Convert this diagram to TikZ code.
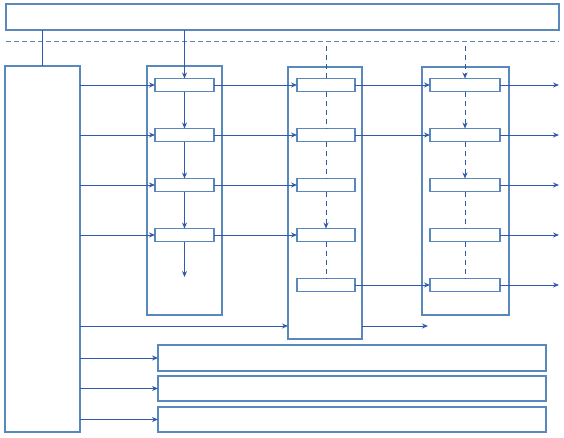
\documentclass[tikz,border=0pt]{standalone}
\usetikzlibrary{arrows.meta}
\definecolor{boxc}{RGB}{88,136,188}
\definecolor{arrc}{RGB}{48,90,168}
\tikzset{
  bigbox/.style={draw=boxc, line width=1.1pt, inner sep=0pt, outer sep=0pt, rectangle},
  sbox/.style={draw=boxc, line width=1.1pt, inner sep=0pt, outer sep=0pt, rectangle, minimum height=13pt},
  arr/.style={draw=arrc, line width=1pt, -{Stealth[length=6pt,width=5pt]}},
  ln/.style={draw=arrc, line width=1pt},
  darr/.style={draw=arrc, line width=0.9pt, dash pattern=on 5pt off 4pt, -{Stealth[length=6pt,width=5pt]}},
  dln/.style={draw=arrc, line width=0.9pt, dash pattern=on 5pt off 4pt},
  sep/.style={draw=boxc, line width=1pt, dash pattern=on 5pt off 3pt}
}
\begin{document}
\begin{tikzpicture}[x=1pt,y=-1pt]
\useasboundingbox (0,0) rectangle (564,437);
% big boxes
\node[bigbox, minimum width=553pt, minimum height=26pt] (t) at (282.5,17) {};
\node[bigbox, minimum width=75pt, minimum height=366pt] (L) at (42.5,249) {};
\node[bigbox, minimum width=75pt, minimum height=249pt] (C1) at (184.5,190.5) {};
\node[bigbox, minimum width=74pt, minimum height=272pt] (C2) at (325,203) {};
\node[bigbox, minimum width=87pt, minimum height=248pt] (C3) at (465.5,191) {};
\node[bigbox, minimum width=388pt, minimum height=26pt] (B1) at (352,358) {};
\node[bigbox, minimum width=388pt, minimum height=25pt] (B2) at (352,388.5) {};
\node[bigbox, minimum width=388pt, minimum height=25pt] (B3) at (352,419.5) {};
% separator
\coordinate (s1) at (6,41);
\coordinate (s2) at (559,41);
\draw[sep] (s1) -- (s2);
% column 1 small boxes
\foreach \i/\y in {1/85,2/135,3/185,4/235}{
  \node[sbox, minimum width=59pt] (a\i) at (184.5,\y) {};
}
% column 2 small boxes
\foreach \i/\y in {1/85,2/135,3/185,4/235,5/285}{
  \node[sbox, minimum width=58pt] (b\i) at (326,\y) {};
}
% column 3 small boxes
\foreach \i/\y in {1/85,2/135,3/185,4/235,5/285}{
  \node[sbox, minimum width=70pt] (c\i) at (465,\y) {};
}
% top to left box
\draw[ln] (t.south -| L.north) -- (L.north);
% column 1 vertical chain
\draw[arr] (t.south -| a1.north) -- (a1.north);
\draw[arr] (a1) -- (a2);
\draw[arr] (a2) -- (a3);
\draw[arr] (a3) -- (a4);
\coordinate (a5) at (184.5,277);
\draw[arr] (a4.south) -- (a5);
% column 2 vertical chain
\coordinate (b0) at (326,46);
\draw[dln] (b0) -- (b1.north);
\draw[dln] (b1.south) -- (b2.north);
\draw[dln] (b2.south) -- (b3.north);
\draw[darr] (b3.south) -- (b4.north);
\draw[dln] (b4.south) -- (b5.north);
% column 3 vertical chain
\coordinate (c0) at (465,46);
\draw[darr] (c0) -- (c1.north);
\draw[darr] (c1.south) -- (c2.north);
\draw[darr] (c2.south) -- (c3.north);
\draw[dln] (c3.south) -- (c4.north);
\draw[dln] (c4.south) -- (c5.north);
% left box to column 1
\foreach \i in {1,2,3,4}{
  \draw[arr] (L.east |- a\i) -- (a\i.west);
  \draw[arr] (a\i.east) -- (b\i.west);
}
% column 2 to column 3
\foreach \i in {1,2,5}{
  \draw[arr] (b\i.east) -- (c\i.west);
}
% column 3 outputs
\foreach \i in {1,2,3,4,5}{
  \coordinate (o\i) at (559,0 |- c\i);
  \draw[arr] (c\i.east) -- (o\i);
}
% left box to column 2 box
\coordinate (r6) at (0,326);
\coordinate (e6) at (428,326);
\draw[arr] (L.east |- r6) -- (C2.west |- r6);
\draw[arr] (C2.east |- r6) -- (e6);
% left box to bottom boxes
\draw[arr] (L.east |- B1) -- (B1.west);
\draw[arr] (L.east |- B2) -- (B2.west);
\draw[arr] (L.east |- B3) -- (B3.west);
\end{tikzpicture}
\end{document}
